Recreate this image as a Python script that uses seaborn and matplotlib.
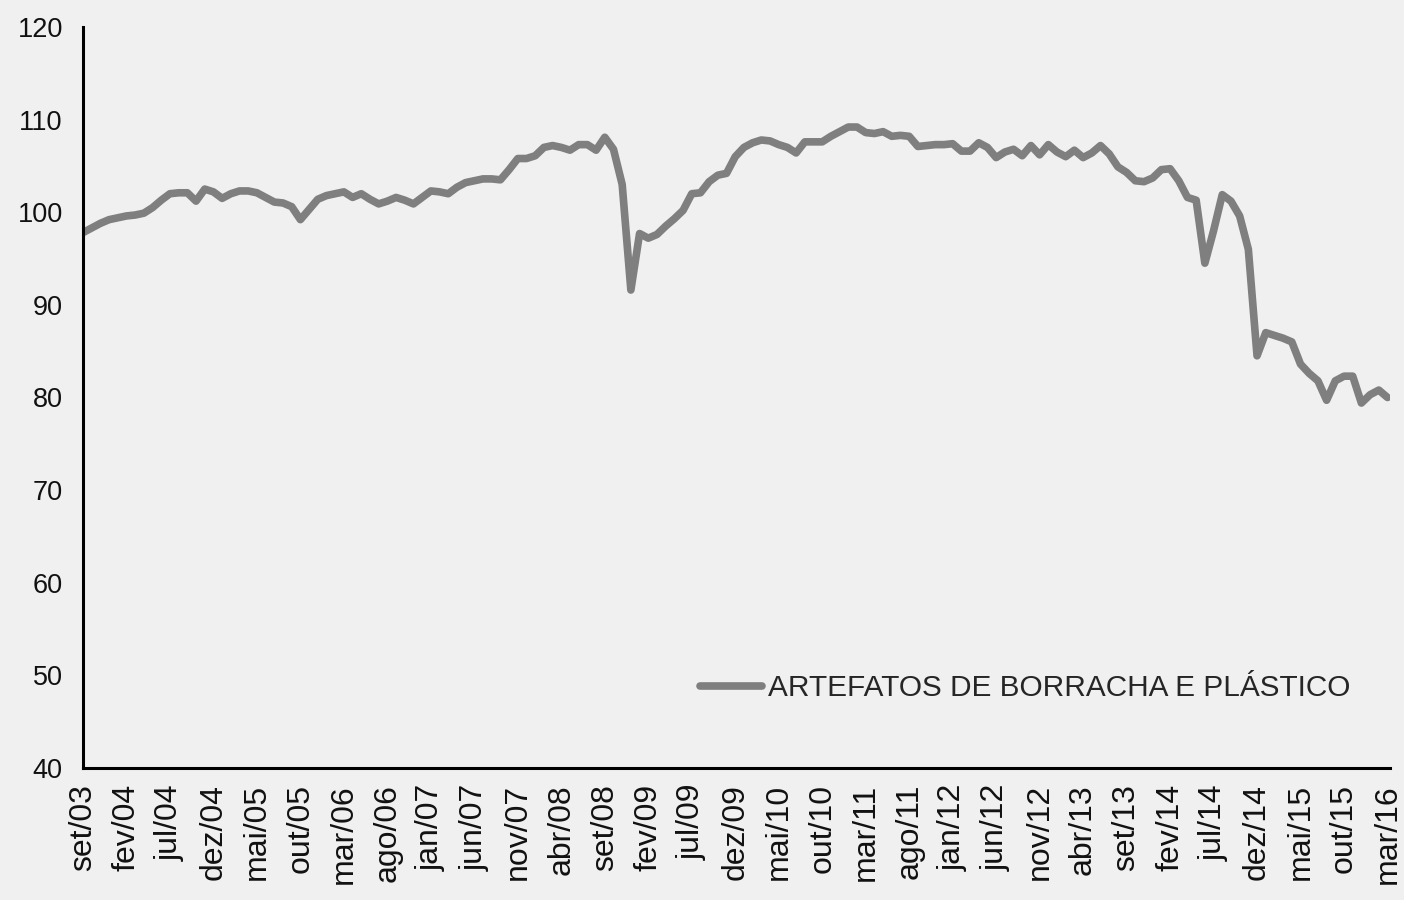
import numpy as np
import pandas as pd
import seaborn as sns
import matplotlib.pyplot as plt

# Monthly index, set/03 .. mar/16 (151 months)
series_name = "ARTEFATOS DE BORRACHA E PLÁSTICO"
values = [
    97.8, 98.3, 98.8, 99.2, 99.4, 99.6, 99.7, 99.9, 100.5, 101.3,
    102.0, 102.1, 102.1, 101.2, 102.5, 102.2, 101.5, 102.0, 102.3, 102.3,
    102.1, 101.6, 101.1, 101.0, 100.6, 99.2, 100.3, 101.4, 101.8, 102.0,
    102.2, 101.6, 102.0, 101.4, 100.9, 101.2, 101.6, 101.3, 100.9, 101.6,
    102.3, 102.2, 102.0, 102.7, 103.2, 103.4, 103.6, 103.6, 103.5, 104.6,
    105.8, 105.8, 106.1, 107.0, 107.2, 107.0, 106.7, 107.3, 107.3, 106.7,
    108.1, 106.8, 103.0, 91.6, 97.7, 97.2, 97.6, 98.5, 99.3, 100.2,
    102.0, 102.1, 103.3, 104.0, 104.2, 106.0, 107.0, 107.5, 107.8, 107.7,
    107.3, 107.0, 106.4, 107.6, 107.6, 107.6, 108.2, 108.7, 109.2, 109.2,
    108.6, 108.5, 108.7, 108.2, 108.3, 108.2, 107.1, 107.2, 107.3, 107.3,
    107.4, 106.6, 106.6, 107.5, 107.0, 105.9, 106.5, 106.8, 106.1, 107.2,
    106.2, 107.3, 106.5, 106.0, 106.7, 105.9, 106.4, 107.2, 106.3, 104.9,
    104.3, 103.4, 103.3, 103.7, 104.6, 104.7, 103.4, 101.6, 101.3, 94.5,
    98.0, 101.9, 101.2, 99.6, 96.0, 84.5, 87.0, 86.7, 86.4, 86.0,
    83.6, 82.6, 81.8, 79.7, 81.8, 82.3, 82.3, 79.4, 80.3, 80.8,
    80.0,
]
tick_labels = [
    "set/03", "fev/04", "jul/04", "dez/04", "mai/05", "out/05", "mar/06",
    "ago/06", "jan/07", "jun/07", "nov/07", "abr/08", "set/08", "fev/09",
    "jul/09", "dez/09", "mai/10", "out/10", "mar/11", "ago/11", "jan/12",
    "jun/12", "nov/12", "abr/13", "set/13", "fev/14", "jul/14", "dez/14",
    "mai/15", "out/15", "mar/16",
]
y_ticks = [40, 50, 60, 70, 80, 90, 100, 110, 120]

df = pd.DataFrame({"mes": np.arange(len(values)), "indice": values})

sns.set_style("white")
plt.rcParams['font.family'] = ['Liberation Sans', 'DejaVu Sans']

bg = "#f0f0f0"
fig = plt.figure(figsize=(14.04, 9), dpi=100, facecolor=bg)
ax = fig.add_axes([0.0591, 0.1467, 0.931, 0.8233], facecolor=bg)

sns.lineplot(data=df, x="mes", y="indice", ax=ax, color="#7f7f7f",
             linewidth=5.5, label=series_name, solid_joinstyle="round",
             solid_capstyle="round")

ax.set_xlim(0, len(values) - 1 + 0.3)
ax.set_ylim(40, 120)
ax.set_yticks(y_ticks)
ax.set_xticks(np.arange(0, len(values), 5))
ax.set_xticklabels(tick_labels, rotation=90)
ax.set_xlabel("")
ax.set_ylabel("")

for side in ["top", "right"]:
    ax.spines[side].set_visible(False)
for side in ["left", "bottom"]:
    ax.spines[side].set_color("black")
    ax.spines[side].set_linewidth(2.2)

ax.tick_params(axis="both", direction="out", length=5.5, width=1.8,
               color="black", labelcolor="#111111")
ax.tick_params(axis="y", labelsize=19.5, pad=9)
ax.tick_params(axis="x", labelsize=23, pad=6)

ax.legend(loc="center left", bbox_to_anchor=(0.472, 0.108), frameon=False,
          borderpad=0, borderaxespad=0, handlelength=2.1, handletextpad=0.2,
          fontsize=21.4)

plt.savefig("out.png", dpi=100, facecolor=bg)
